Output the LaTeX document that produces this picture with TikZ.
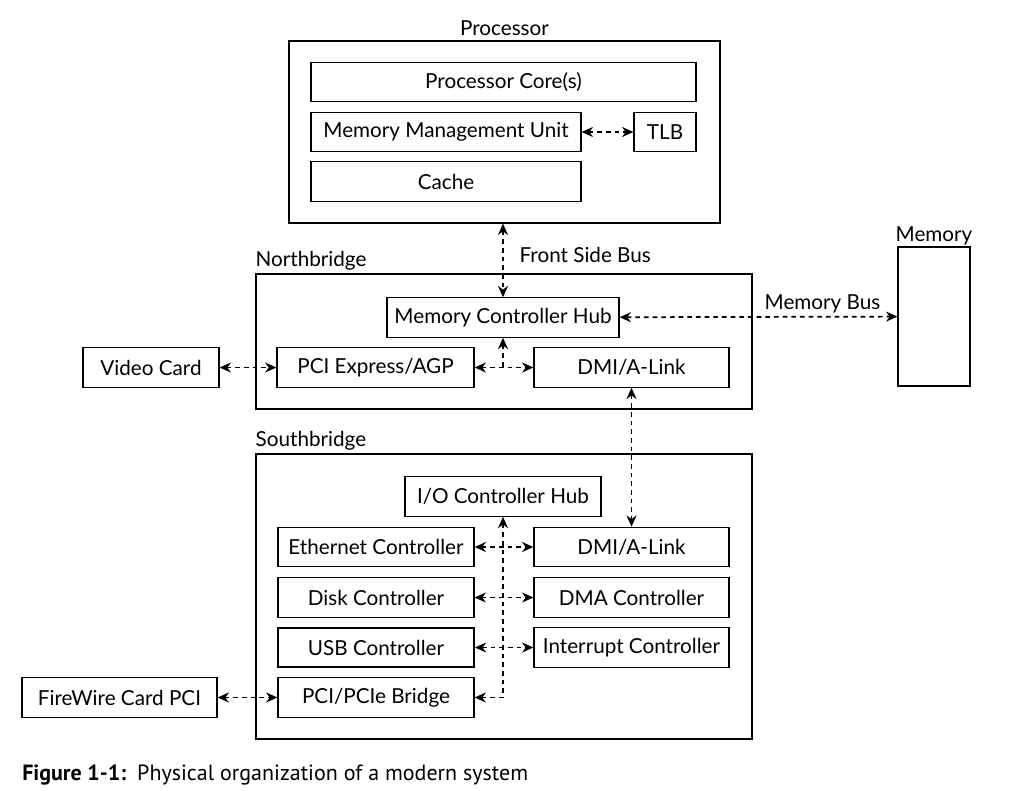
\documentclass[tikz,border=0pt]{standalone}
\usepackage{fontspec}
\setmainfont{Lato}
\newfontfamily\capfont{PT Sans}
\usetikzlibrary{arrows.meta}

\begin{document}
\begin{tikzpicture}[x=0.75pt,y=0.75pt,yscale=-1,xscale=1,
  blk/.style={draw, line width=0.9pt, minimum width=#1*0.75pt, minimum height=29.5pt, inner sep=0pt, font=\fontsize{15.5}{18}\selectfont},
  grp/.style={draw, line width=0.9pt, inner sep=0pt},
  bus/.style={line width=1.3pt, dash pattern=on 3.5pt off 3pt},
  >={Stealth[length=8.5pt,width=7.5pt]},
  font=\fontsize{15.5}{18}\selectfont]
\useasboundingbox (0,0) rectangle (1011,790);

%Shape: Rectangle [Processor] 
\node[grp, minimum width=323.25pt, minimum height=136.5pt, label={[inner sep=3pt]above:Processor}] (proc) at (504.5,132) {};
%Shape: Rectangle [Northbridge] 
\node[grp, minimum width=372pt, minimum height=101.25pt, label={[anchor=south west, inner sep=2pt, xshift=-2pt]north west:Northbridge}] (nb) at (504,341.5) {};
%Shape: Rectangle [Southbridge] 
\node[grp, minimum width=372pt, minimum height=213.75pt, label={[anchor=south west, inner sep=2pt, xshift=-2pt]north west:Southbridge}] (sb) at (504,596.5) {};
%Shape: Rectangle [Memory] 
\node[grp, minimum width=54pt, minimum height=104.25pt, label={[inner sep=1pt]above:Memory}] (mem) at (934,316.5) {};

% Processor parts
\node[blk=385] (core) at (503.5,82) {Processor Core(s)};
\node[blk=270] (mmu) at (446,132) {Memory Management Unit};
\node[blk=62] (tlb) at (665,132) {TLB};
\node[blk=270] (cache) at (446,181.5) {Cache};

% Northbridge parts
\node[blk=232] (mch) at (503,317.5) {Memory Controller Hub};
\node[blk=197] (pci) at (375.5,367.5) {PCI Express/AGP};
\node[blk=195] (nbdmi) at (631.5,367.5) {DMI/A-Link};
\node[blk=136] (video) at (151,367.5) {Video Card};

% Southbridge parts
\node[blk=196] (ioh) at (503,496.5) {I/O Controller Hub};
\node[blk=196] (eth) at (376,547) {Ethernet Controller};
\node[blk=195] (sbdmi) at (631.5,547) {DMI/A-Link};
\node[blk=196] (disk) at (376,597.5) {Disk Controller};
\node[blk=195] (dma) at (631.5,597.5) {DMA Controller};
\node[blk=196, line width=1.3pt] (usb) at (376,647.5) {USB Controller};
\node[blk=195] (intr) at (631.5,647.5) {Interrupt Controller};
\node[blk=196] (bridge) at (376,697.5) {PCI/PCIe Bridge};
\node[blk=195] (fw) at (119.5,697.5) {FireWire Card PCI};

%Straight Lines [buses] 
\draw[bus,<->] (mmu) -- (tlb);
\draw[bus,<->] (mch.north |- proc.south) -- (mch.north) node[midway, right=8.5pt, yshift=4pt] {Front Side Bus};
\draw[bus,<->] (mch) -- (mem) node[pos=0.73, above=2pt, yshift=-3pt] {Memory Bus};
\draw[bus,<-] (mch.south) -- (mch.south |- pci.east);
\draw[bus,<->] (pci) -- (nbdmi);
\draw[bus,<->] (video) -- (pci);
\draw[bus,<->] (nbdmi) -- (sbdmi);
\draw[bus,<->] (ioh.south) -- (ioh.south |- bridge.east) -- (bridge.east);
\draw[bus,<->] (eth) -- (sbdmi);
\draw[bus,<->] (disk) -- (dma);
\draw[bus,<->] (usb) -- (intr);
\draw[bus,<->] (fw) -- (bridge);

% Text Node
\node[anchor=west, inner sep=0pt, font=\capfont\fontsize{16.5}{19}\selectfont] (cap) at (22,775) {{\bfseries Figure 1-1:}\enspace Physical organization of a modern system};

\end{tikzpicture}
\end{document}
